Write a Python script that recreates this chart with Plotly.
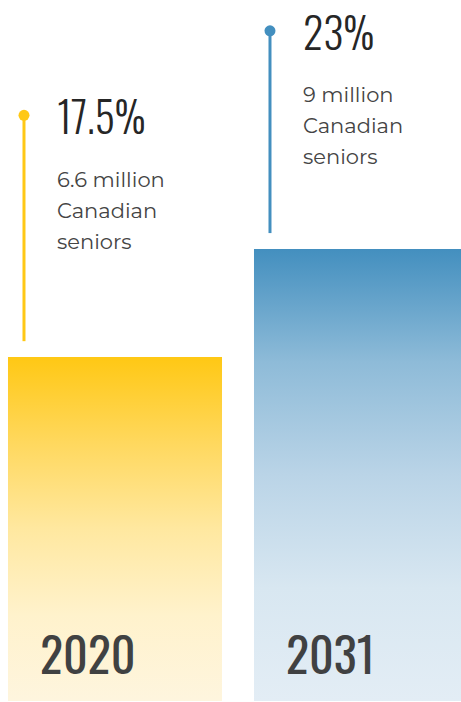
import plotly.graph_objects as go

# ---- data ----
years = ["2020", "2031"]
share_pct = [17.5, 23.0]
share_labels = ["17.5%", "23%"]
seniors_lines = [["6.6 million", "Canadian", "seniors"],
                 ["9 million", "Canadian", "seniors"]]

# ---- styling ----
BAR_W = 0.87
STEM_TOP = [29.8, 34.1]          # label anchor heights (axis units)
STEM_GAP = 0.81                  # gap between stem bottom and bar top
stem_colors = ["#FFC815", "#438FBF"]
gradients = [
    [[0.0, "#FEF5DE"], [0.25, "#FFF2CC"], [0.5, "#FFE8A0"], [0.75, "#FFD85E"], [1.0, "#FFC814"]],
    [[0.0, "#E3EDF5"], [0.25, "#D8E7F1"], [0.5, "#BAD4E7"], [0.75, "#8EBBD8"], [1.0, "#438FBF"]],
]
PCT_FONT = "Oswald, Roboto Condensed, sans-serif"
BODY_FONT = "Montserrat, DejaVu Sans, sans-serif"

fig = go.Figure()

for i, (yr, v) in enumerate(zip(years, share_pct)):
    left = i - BAR_W / 2
    right = i + BAR_W / 2
    # bar with vertical gradient
    fig.add_trace(go.Scatter(
        x=[left, right], y=[v, v], mode="lines",
        line=dict(width=0, color=stem_colors[i]),
        fill="tozeroy",
        fillgradient=dict(type="vertical", colorscale=gradients[i], start=0, stop=v),
        hoverinfo="skip", showlegend=False,
    ))
    # stem
    sx = left + 16 / 246
    fig.add_trace(go.Scatter(
        x=[sx, sx], y=[v + STEM_GAP, STEM_TOP[i]], mode="lines",
        line=dict(width=3, color=stem_colors[i]),
        hoverinfo="skip", showlegend=False,
    ))
    # dot
    fig.add_trace(go.Scatter(
        x=[sx], y=[STEM_TOP[i]], mode="markers",
        marker=dict(size=11, color=stem_colors[i], opacity=1, line=dict(width=0)),
        hoverinfo="skip", showlegend=False,
    ))
    # percent label
    fig.add_annotation(
        x=sx, y=STEM_TOP[i], xref="x", yref="y", text=share_labels[i],
        showarrow=False, xanchor="left", yanchor="middle", xshift=31, yshift=0,
        font=dict(family=PCT_FONT, size=42, weight=300, color="#262626"),
    )
    # body lines
    for k, line in enumerate(seniors_lines[i]):
        fig.add_annotation(
            x=sx, y=STEM_TOP[i], xref="x", yref="y", text=line,
            showarrow=False, xanchor="left", yanchor="middle",
            xshift=31, yshift=-(64 + 31 * k),
            font=dict(family=BODY_FONT, size=21, color="#444444"),
        )
    # year label
    fig.add_annotation(
        x=left, y=0, xref="x", yref="y", text=yr,
        showarrow=False, xanchor="left", yanchor="middle",
        xshift=30, yshift=49,
        font=dict(family=PCT_FONT, size=48, weight=400, color="#404142"),
    )

fig.update_layout(
    width=461, height=702,
    margin=dict(l=0, r=0, t=0, b=1),
    paper_bgcolor="white", plot_bgcolor="white",
    xaxis=dict(range=[-0.4675, 1.4065], visible=False, fixedrange=True),
    yaxis=dict(range=[0, 35.67], visible=False, fixedrange=True),
    showlegend=False,
)

fig.write_html("out.html")
